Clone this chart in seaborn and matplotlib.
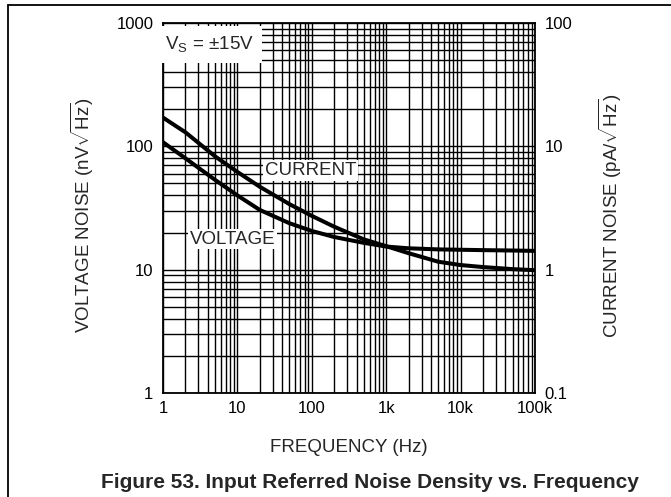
import numpy as np
import pandas as pd
import matplotlib
matplotlib.use("Agg")
import matplotlib.pyplot as plt
import seaborn as sns
from matplotlib.ticker import LogLocator, FixedLocator, NullFormatter

# data
freq = [1, 2, 5, 10, 20, 50, 100, 200, 500, 1000, 2000, 5000, 10000, 20000, 50000, 100000]
voltage_noise = [108, 80, 53.5, 40, 30.5, 23.8, 20.6, 18.4, 16.5, 15.4, 14.9, 14.6, 14.5, 14.4, 14.3, 14.2]  # nV/rtHz
current_noise = [17.1, 13.0, 8.3, 6.2, 4.7, 3.4, 2.73, 2.23, 1.76, 1.55, 1.36, 1.16, 1.09, 1.05, 1.01, 0.99]  # pA/rtHz

x_ticks = [1, 10, 100, 1000, 10000, 100000]
x_labels = ["1", "10", "100", "1k", "10k", "100k"]
left_ticks = [1, 10, 100, 1000]
left_labels = ["1", "10", "100", "1000"]
right_ticks = [0.1, 1, 10, 100]
right_labels = ["0.1", "1", "10", "100"]

# right axis is left axis / 10, so plot current on the left scale
df = pd.DataFrame({"freq": freq, "voltage": voltage_noise,
                   "current_scaled": [c * 10 for c in current_noise]})

sns.set_style("white")
plt.rcParams["font.family"] = ["Liberation Sans", "DejaVu Sans"]
plt.rcParams["mathtext.fontset"] = "custom"
plt.rcParams["mathtext.rm"] = "Liberation Sans"
plt.rcParams["mathtext.it"] = "Liberation Sans"

fs_tick = 12
fs_lab = 13.5

fig = plt.figure(figsize=(6.71, 4.97), dpi=100)
ax = fig.add_axes([163 / 671, 1 - 393 / 497, 372 / 671, 370 / 497])

ax.set_xscale("log")
ax.set_yscale("log")
ax.set_xlim(1, 100000)
ax.set_ylim(1, 1000)

# full log grid
ax.xaxis.set_minor_locator(LogLocator(base=10, subs=np.arange(2, 10)))
ax.yaxis.set_minor_locator(LogLocator(base=10, subs=np.arange(2, 10)))
ax.grid(True, which="both", color="black", linewidth=1.0)
ax.set_axisbelow(True)

sns.lineplot(data=df, x="freq", y="voltage", ax=ax, color="black", linewidth=2.9)
sns.lineplot(data=df, x="freq", y="current_scaled", ax=ax, color="black", linewidth=2.9)

ax.xaxis.set_major_locator(FixedLocator(x_ticks))
ax.set_xticklabels(x_labels)
ax.xaxis.set_minor_formatter(NullFormatter())
ax.yaxis.set_major_locator(FixedLocator(left_ticks))
ax.set_yticklabels(left_labels)
ax.yaxis.set_minor_formatter(NullFormatter())
ax.tick_params(which="both", length=0, labelsize=fs_tick, colors="black")
ax.tick_params(axis="y", pad=7)
ax.tick_params(axis="x", pad=6)

for s in ax.spines.values():
    s.set_color("black")
    s.set_linewidth(1.3)

ax.set_xlabel("FREQUENCY (Hz)", fontsize=fs_lab)
ax.xaxis.set_label_coords(0.5, -0.125)
ax.set_ylabel(r"VOLTAGE NOISE (nV$\sqrt{\mathrm{Hz}}$)", fontsize=fs_lab)
ax.yaxis.set_label_coords(-0.18, 0.48)

ax2 = ax.twinx()
ax2.set_yscale("log")
ax2.set_ylim(0.1, 100)
ax2.yaxis.set_major_locator(FixedLocator(right_ticks))
ax2.set_yticklabels(right_labels)
ax2.yaxis.set_minor_locator(LogLocator(base=10, subs=np.arange(2, 10)))
ax2.yaxis.set_minor_formatter(NullFormatter())
ax2.tick_params(which="both", length=0, labelsize=fs_tick, colors="black", pad=7)
ax2.set_ylabel(r"CURRENT NOISE (pA/$\sqrt{\mathrm{Hz}}$)", fontsize=fs_lab)
ax2.yaxis.set_label_coords(1.165, 0.48)
for s in ax2.spines.values():
    s.set_visible(False)

ax.text(1.05, 670, r"V$_\mathrm{S}$ = ±15V", fontsize=fs_lab, va="center", ha="left",
        bbox=dict(facecolor="white", edgecolor="none", boxstyle="square,pad=0.45"))
box = dict(facecolor="white", edgecolor="none", boxstyle="square,pad=0.1")
ax.text(23.5, 64, "CURRENT", fontsize=fs_lab, va="center", ha="left", bbox=box)
ax.text(2.3, 17.7, "VOLTAGE", fontsize=fs_lab, va="center", ha="left", bbox=box)

fig.text(370 / 671, 1 - 482 / 497, "Figure 53. Input Referred Noise Density vs. Frequency",
         fontsize=15, fontweight="bold", ha="center", va="center")

# page frame lines (top and left)
fig.add_artist(plt.Line2D([8 / 671, 1], [1 - 5 / 497, 1 - 5 / 497], color="black", lw=1.3))
fig.add_artist(plt.Line2D([8 / 671, 8 / 671], [0, 1 - 5 / 497], color="black", lw=1.3))

fig.savefig("out.png", dpi=100)
